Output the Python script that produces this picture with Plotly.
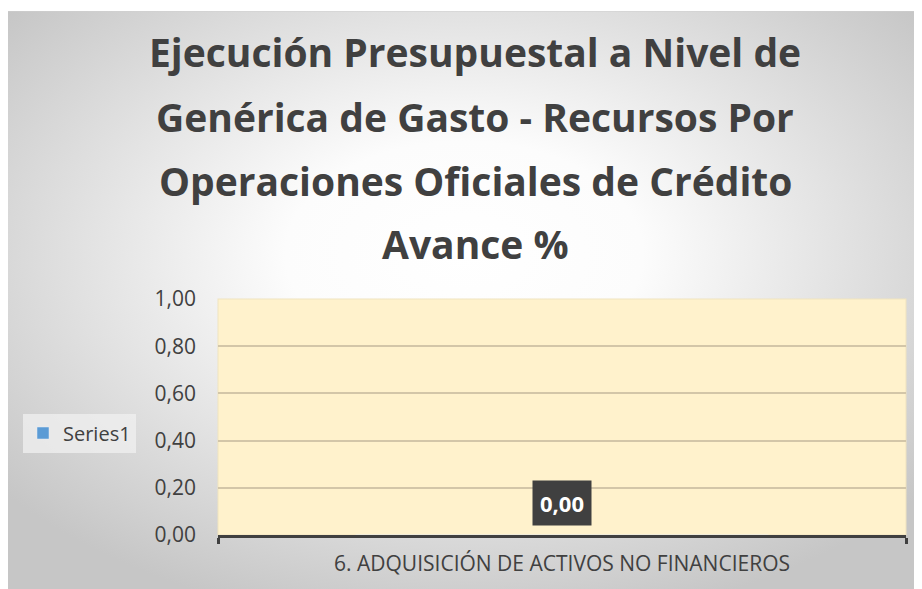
import base64
import plotly.graph_objects as go

categories = ["6. ADQUISICIÓN DE ACTIVOS NO FINANCIEROS"]
values = [0.00]
series_name = "Series1"
title_lines = ["Ejecución Presupuestal a Nivel de",
               "Genérica de Gasto - Recursos Por",
               "Operaciones Oficiales de Crédito",
               "Avance %"]
y_ticks = [0, 0.2, 0.4, 0.6, 0.8, 1.0]

OFF = 8  # page body margin
W, H = 922 - OFF, 589 - OFF
# plot area in reference pixels
PX0, PX1, PY0, PY1 = 218, 906, 299, 535
L, R, T, B = PX0 - OFF, W - (PX1 - OFF), PY0 - OFF, H - (PY1 - OFF)
pw, ph = W - L - R, H - T - B

def fx(px):
    return (px - PX0) / (PX1 - PX0)

def fy(py):
    return (PY1 - py) / (PY1 - PY0)

# background chart area (ref px): 6..922 x 11..589
BX0, BY0, BX1, BY1 = 6, 11, 922, 590
bw, bh = BX1 - BX0, BY1 - BY0
svg = f'''<svg xmlns="http://www.w3.org/2000/svg" width="{bw}" height="{bh}" viewBox="0 0 {bw} {bh}" preserveAspectRatio="none">
<defs><radialGradient id="g" cx="0.5" cy="0.42" r="0.65">
<stop offset="0" stop-color="#ffffff"/>
<stop offset="0.3" stop-color="#fcfcfc"/>
<stop offset="1" stop-color="#c6c6c6"/>
</radialGradient></defs>
<rect x="0" y="0" width="{bw}" height="{bh}" fill="url(#g)" stroke="#cfcfcf" stroke-width="1"/>
<rect x="{PX0 - BX0}" y="{PY0 - BY0}" width="{PX1 - PX0}" height="{PY1 - PY0}" fill="#FFF2CC" stroke="#EFE3C0" stroke-width="1"/>
</svg>'''
bg_src = "data:image/svg+xml;base64," + base64.b64encode(svg.encode()).decode()

fig = go.Figure()
fig.add_trace(go.Bar(x=categories, y=values, name=series_name,
                     marker_color="#5B9BD5", showlegend=True))

annotations = []
line_y = [52, 116, 180, 243]
for txt, ly in zip(title_lines, line_y):
    annotations.append(dict(text=f"<b>{txt}</b>", x=fx(475),
                            y=fy(ly), xref="paper", yref="paper",
                            xanchor="center", yanchor="middle", showarrow=False,
                            font=dict(family="Open Sans", size=39, color="#404040")))

for c, v in zip(categories, values):
    annotations.append(dict(text=f"<b>{v:.2f}</b>".replace(".", ","), x=c, y=v,
                            xref="x", yref="y", yanchor="bottom", yshift=9,
                            showarrow=False, bgcolor="#404040", borderpad=7,
                            font=dict(family="Open Sans", size=22, color="white")))

fig.update_layout(
    width=W, height=H,
    margin=dict(l=L, r=R, t=T, b=B),
    paper_bgcolor="white",
    plot_bgcolor="rgba(0,0,0,0)",
    separators=",.",
    font=dict(family="Open Sans", color="#404040"),
    bargap=0.4,
    showlegend=True,
    legend=dict(x=fx(23), y=fy(433), xanchor="left", yanchor="middle",
                bgcolor="rgba(240,240,240,0.75)", font=dict(size=20, color="#404040"),
                itemwidth=30, tracegroupgap=0),
    annotations=annotations,
    images=[dict(source=bg_src, xref="paper", yref="paper",
                 x=fx(BX0), y=fy(BY0),
                 sizex=bw / (PX1 - PX0), sizey=bh / (PY1 - PY0),
                 xanchor="left", yanchor="top", sizing="stretch", layer="below")],
)
fig.update_yaxes(range=[0, 1.0], tickvals=y_ticks, tickformat=".2f",
                 showgrid=True, gridcolor="#D3C6A8", gridwidth=2,
                 zeroline=False, showline=False, ticks="",
                 tickfont=dict(size=21, color="#404040"), ticklabelstandoff=21)
fig.update_xaxes(showline=True, linecolor="#404040", linewidth=3,
                 ticks="outside", tickson="boundaries", ticklen=6, tickwidth=3,
                 tickcolor="#404040", showgrid=False,
                 tickfont=dict(size=21, color="#404040"), ticklabelstandoff=8)

fig.write_html("out.html")
